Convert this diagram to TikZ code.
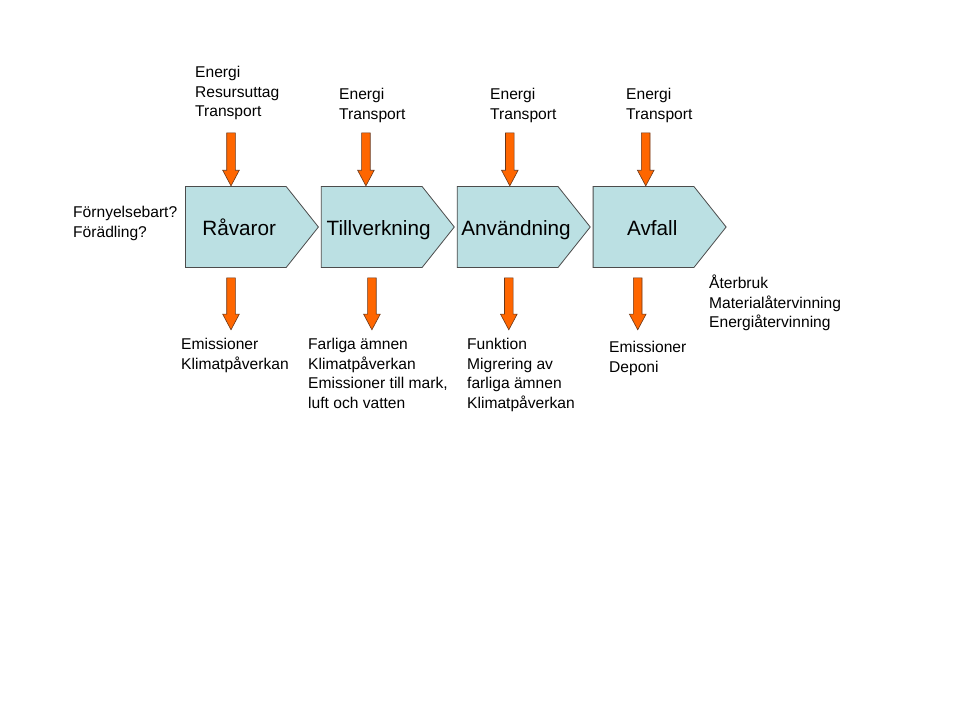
\documentclass[tikz,border=0pt]{standalone}
\usepackage{fontspec}
\setmainfont{Liberation Sans}
\usetikzlibrary{positioning, calc, shapes.symbols, shapes.arrows}
\definecolor{boxblue}{RGB}{187,224,227}
\definecolor{flow}{RGB}{255,102,0}
\definecolor{flowline}{RGB}{105,55,25}

\begin{document}
\begin{tikzpicture}[x=1pt, y=-1pt, node distance=2pt,
        stage/.style = {draw=black!70, line width=0.8pt, fill=boxblue, signal, signal to=east,
            signal pointer angle=103, minimum width=133pt, minimum height=81pt, inner sep=0pt},
        stagetext/.style = {anchor=base, inner sep=0pt, font=\fontsize{20.7}{24}\selectfont},
        down/.style = {draw=flowline, line width=0.6pt, fill=flow, single arrow, shape border rotate=270,
            minimum height=53pt, minimum width=16pt, single arrow head extend=4pt,
            single arrow tip angle=56, inner sep=4pt},
        note/.style = {align=left, anchor=north west, inner sep=0pt, font=\fontsize{15.6}{19.5}\selectfont}]

    \useasboundingbox[fill=white] (0,0) rectangle (960,720);

    % the four stages
    \node[stage, anchor=west] (r1) at (185,227) {};
    \node[stage] (r2) [right=of r1] {};
    \node[stage] (r3) [right=of r2] {};
    \node[stage] (r4) [right=of r3] {};

    \node[stagetext] (l1) at ($(r1.west)+(54.2,8)$) {Råvaror};
    \node[stagetext] (l2) at ($(r2.west)+(57.7,8)$) {Tillverkning};
    \node[stagetext] (l3) at ($(r3.west)+(59.2,8)$) {Användning};
    \node[stagetext] (l4) at ($(r4.west)+(59.5,8)$) {Avfall};

    % inflows
    \node[down, anchor=tip] (in1) at ($(r1.west)+(46,-40.5)$) {};
    \node[down, anchor=tip] (in2) at ($(r2.west)+(45,-40.5)$) {};
    \node[down, anchor=tip] (in3) at ($(r3.west)+(53,-40.5)$) {};
    \node[down, anchor=tip] (in4) at ($(r4.west)+(53,-40.5)$) {};

    % outflows
    \node[down, anchor=tail, minimum height=52pt] (out1) at ($(r1.west)+(46,50.5)$) {};
    \node[down, anchor=tail, minimum height=52pt] (out2) at ($(r2.west)+(51,50.5)$) {};
    \node[down, anchor=tail, minimum height=52pt] (out3) at ($(r3.west)+(52,50.5)$) {};
    \node[down, anchor=tail, minimum height=52pt] (out4) at ($(r4.west)+(45,50.5)$) {};

    \node[note] (t1) at (195,66) {Energi\\Resursuttag\\Transport};
    \node[note] (t2) at (339,88) {Energi\\Transport};
    \node[note] (t3) at (490,88) {Energi\\Transport};
    \node[note] (t4) at (626,88) {Energi\\Transport};

    \node[note] (b1) at (181,338) {Emissioner\\Klimatpåverkan};
    \node[note] (b2) at (308,338) {Farliga ämnen\\Klimatpåverkan\\Emissioner till mark,\\luft och vatten};
    \node[note] (b3) at (467,338) {Funktion\\Migrering av\\farliga ämnen\\Klimatpåverkan};
    \node[note] (b4) at (609,341) {Emissioner\\Deponi};

    \node[note] (q) at (73,206) {Förnyelsebart?\\Förädling?};
    \node[note] (re) at (709,275) {Återbruk\\Materialåtervinning\\Energiåtervinning};

\end{tikzpicture}
\end{document}
